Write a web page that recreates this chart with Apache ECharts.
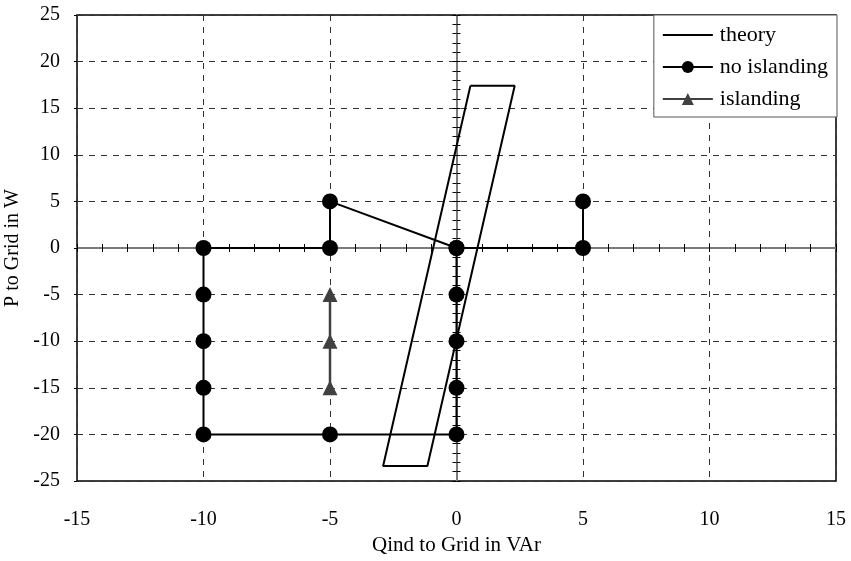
<!DOCTYPE html>
<html>
<head>
<meta charset="utf-8">
<script src="https://cdn.jsdelivr.net/npm/echarts@6/dist/echarts.min.js"></script>
<style>
  html, body { margin: 0; padding: 0; background: #fff; }
  #chart { width: 851px; height: 561px; }
</style>
</head>
<body>
<div id="chart"></div>
<script>
// Reactive power vs. active power exchanged with the grid
const seriesNames = ['theory', 'no islanding', 'islanding'];

// Theoretical non-detection zone (closed parallelogram), [Q, P]
const theoryPoints = [[0.55, 17.4], [2.3, 17.4], [-1.15, -23.4], [-2.9, -23.4], [0.55, 17.4]];

// Operating points where the inverter disconnected correctly
const noIslandingPoints = [
  [5, 5], [5, 0], [0, 0], [-5, 5], [-5, 0], [-10, 0], [-10, -5], [-10, -10],
  [-10, -15], [-10, -20], [-5, -20], [0, -20], [0, -15], [0, -10], [0, -5], [0, 0]
];

// Operating points where islanding occurred
const islandingPoints = [[-5, -5], [-5, -10], [-5, -15]];

const xRange = { min: -15, max: 15, major: 5, minor: 1 };
const yRange = { min: -25, max: 25, major: 5, minor: 1 };
const xTitle = 'Qind to Grid in VAr';
const yTitle = 'P to Grid in W';

const FONT = "'Liberation Serif', 'Times New Roman', serif";
const chart = echarts.init(document.getElementById('chart'), null, { renderer: 'canvas' });

// axis through the origin with small ticks crossing the line
function zeroAxis(range, inside) {
  return {
    type: 'value',
    min: range.min, max: range.max, interval: range.minor,
    axisLine: { show: true, onZero: true, onZeroAxisIndex: 0, lineStyle: { color: '#7a7a7a', width: 2 } },
    axisTick: { show: true, inside: inside, length: 4, lineStyle: { color: '#000', width: 1 } },
    axisLabel: { show: false },
    splitLine: { show: false }
  };
}

const option = {
  animation: false,
  backgroundColor: '#fff',
  grid: {
    left: 77, right: 15, top: 15, bottom: 80,
    outerBoundsMode: 'none', containLabel: false,
    show: true, borderColor: '#000', borderWidth: 1.5, backgroundColor: 'transparent'
  },
  legend: {
    data: [
      { name: 'theory', icon: 'path://M0,0L50,0L50,2L0,2Z' },
      { name: 'no islanding' },
      { name: 'islanding' }
    ],
    orient: 'vertical',
    right: 14, top: 15,
    itemWidth: 50, itemHeight: 15, itemGap: 10,
    padding: [9, 9, 7, 8],
    backgroundColor: '#fff',
    borderColor: '#555', borderWidth: 1,
    textStyle: { fontFamily: FONT, fontSize: 22, color: '#000', padding: [0, 0, 0, 2] }
  },
  xAxis: [
    {
      type: 'value', position: 'bottom',
      min: xRange.min, max: xRange.max, interval: xRange.major,
      name: xTitle, nameLocation: 'middle', nameGap: 45,
      nameTextStyle: { fontFamily: FONT, fontSize: 21, color: '#000' },
      axisLine: { show: false, onZero: false },
      axisTick: { show: false },
      axisLabel: { margin: 29, fontFamily: FONT, fontSize: 20, color: '#000' },
      splitLine: { show: true, lineStyle: { color: '#333', width: 1, type: [6, 6] } }
    },
    zeroAxis(xRange, true),
    zeroAxis(xRange, false)
  ],
  yAxis: [
    {
      type: 'value', position: 'left',
      min: yRange.min, max: yRange.max, interval: yRange.major,
      name: yTitle, nameLocation: 'middle', nameGap: 48, nameRotate: 90,
      nameTextStyle: { fontFamily: FONT, fontSize: 20, color: '#000' },
      axisLine: { show: false, onZero: false },
      axisTick: { show: true, inside: false, length: 3, lineStyle: { color: '#000' } },
      axisLabel: { margin: 17, fontFamily: FONT, fontSize: 20, color: '#000' },
      splitLine: { show: true, lineStyle: { color: '#333', width: 1, type: [6, 6] } }
    },
    zeroAxis(yRange, true),
    zeroAxis(yRange, false)
  ],
  series: [
    {
      name: 'theory', type: 'line', data: theoryPoints,
      symbol: 'none', lineStyle: { color: '#000', width: 2 }, itemStyle: { color: '#000' },
      z: 3
    },
    {
      name: 'no islanding', type: 'line', data: noIslandingPoints,
      symbol: 'circle', symbolSize: 16,
      lineStyle: { color: '#000', width: 2 }, itemStyle: { color: '#000' },
      z: 4
    },
    {
      name: 'islanding', type: 'line', data: islandingPoints,
      symbol: 'triangle', symbolSize: 15,
      lineStyle: { color: '#404040', width: 2.5 }, itemStyle: { color: '#404040' },
      z: 5
    }
  ]
};

chart.setOption(option);
</script>
</body>
</html>
